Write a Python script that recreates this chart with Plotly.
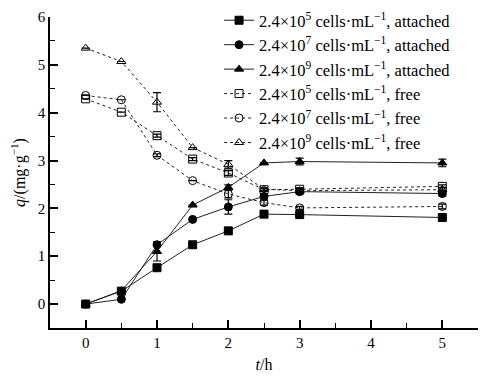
import plotly.graph_objects as go

t = [0, 0.5, 1, 1.5, 2, 2.5, 3, 5]

att5 = [0.0, 0.27, 0.76, 1.24, 1.53, 1.88, 1.87, 1.81]
att7 = [0.0, 0.10, 1.24, 1.77, 2.03, 2.25, 2.35, 2.31]
att9 = [0.0, 0.28, 1.10, 2.07, 2.44, 2.95, 2.98, 2.95]
free5 = [4.29, 4.01, 3.52, 3.03, 2.74, 2.39, 2.40, 2.46]
free7 = [4.36, 4.27, 3.11, 2.58, 2.30, 2.12, 2.01, 2.04]
free9 = [5.35, 5.07, 4.22, 3.27, 2.92, 2.40, 2.37, 2.39]

err_att5 = [0, 0, 0, 0, 0, 0.02, 0.02, 0.03]
err_att7 = [0, 0, 0.03, 0, 0.15, 0.05, 0.05, 0.05]
err_att9 = [0, 0, 0.20, 0, 0.05, 0, 0.07, 0.08]
err_free5 = [0, 0, 0.03, 0.03, 0.05, 0.03, 0.03, 0.03]
err_free7 = [0, 0, 0.03, 0, 0.08, 0.05, 0.03, 0.05]
err_free9 = [0, 0, 0.20, 0, 0.08, 0.03, 0.05, 0.05]

labels = [
    "2.4×10<sup>5</sup> cells·mL<sup>−1</sup>, attached",
    "2.4×10<sup>7</sup> cells·mL<sup>−1</sup>, attached",
    "2.4×10<sup>9</sup> cells·mL<sup>−1</sup>, attached",
    "2.4×10<sup>5</sup> cells·mL<sup>−1</sup>, free",
    "2.4×10<sup>7</sup> cells·mL<sup>−1</sup>, free",
    "2.4×10<sup>9</sup> cells·mL<sup>−1</sup>, free",
]

series = [
    (att5, err_att5, "square", "solid"),
    (att7, err_att7, "circle", "solid"),
    (att9, err_att9, "triangle-up", "solid"),
    (free5, err_free5, "square-open", "dot"),
    (free7, err_free7, "circle-open", "dot"),
    (free9, err_free9, "triangle-up-open", "dot"),
]

fig = go.Figure()
for (y, e, sym, dash), name in zip(series, labels):
    fig.add_trace(go.Scatter(
        x=t, y=y, name=name, mode="lines+markers",
        line=dict(color="#222222", width=1, dash=dash),
        marker=dict(symbol=sym, size=8, color="#000000",
                    line=dict(color="#000000", width=1)),
        error_y=dict(type="data", array=e, visible=True, color="#000000",
                     thickness=1.2, width=4),
    ))

font_family = "Liberation Serif, Times New Roman, serif"
axis_common = dict(
    showline=True, linecolor="#000000", linewidth=1.5, mirror=False,
    ticks="inside", ticklen=8, tickwidth=1.5, tickcolor="#000000",
    showgrid=False, zeroline=False, automargin=False,
    tickfont=dict(family=font_family, size=15, color="#000000"),
)

fig.update_layout(
    width=503, height=379,
    margin=dict(l=42, r=33, t=9, b=59, autoexpand=False),
    paper_bgcolor="white", plot_bgcolor="white",
    font=dict(family=font_family, size=14, color="#000000"),
    showlegend=True,
    legend=dict(x=0.395, y=1.045, xanchor="left", yanchor="top",
                bgcolor="rgba(0,0,0,0)", borderwidth=0,
                font=dict(family=font_family, size=16.5, color="#000000"),
                tracegroupgap=0, itemwidth=30),
    xaxis=dict(range=[-0.5, 5.5], dtick=1, tick0=0,
               minor=dict(ticks="inside", dtick=0.5, tick0=0, ticklen=5,
                          tickwidth=1.2, tickcolor="#000000"),
               title=dict(text="<i>t</i>/h", standoff=9,
                          font=dict(family=font_family, size=16)),
               **axis_common),
    yaxis=dict(range=[-0.5, 6], dtick=1, tick0=0,
               minor=dict(ticks="inside", dtick=0.5, tick0=0, ticklen=5,
                          tickwidth=1.2, tickcolor="#000000"),
               title=dict(text="<i>q</i>/(mg·g<sup>−1</sup>)", standoff=8,
                          font=dict(family=font_family, size=16)),
               **axis_common),
)

fig.write_html("out.html")
